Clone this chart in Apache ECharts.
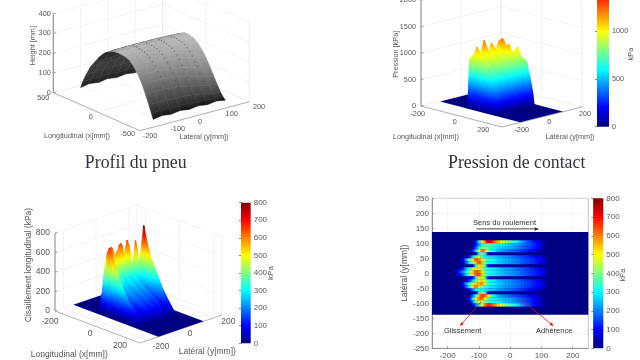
<!DOCTYPE html>
<html><head><meta charset="utf-8">
<script src="https://cdn.jsdelivr.net/npm/echarts@6/dist/echarts.min.js"></script>
<style>html,body{margin:0;background:#fff}#c{width:640px;height:360px;filter:blur(0.55px)}</style>
</head><body><div id="c"></div>
<script>
const tyreX=[-372,-350,-320,-280,-240,-200,-150,-100,-50,0,50,100,150,200,250,300,350,400,440,465];
const tyreY=[-111,-78,-45,-12,21,54,87,120,153];
const tyreHeight=[
[0,8,2,9,2,8,2,8,0],
[28,30,28,28,26,24,20,16,10],
[65,65,64,62,58,54,46,38,28],
[112,112,110,106,100,92,82,70,60],
[155,154,152,148,142,132,120,106,95],
[189,188,186,182,176,168,156,142,130],
[222,222,220,218,214,208,198,186,172],
[246,246,245,243,240,236,230,220,205],
[255,256,256,255,254,252,248,242,230],
[258,260,260,260,260,258,256,252,245],
[258,260,261,261,261,260,258,256,252],
[253,255,256,256,256,255,254,252,250],
[240,242,243,243,243,243,242,240,238],
[222,224,225,225,225,225,224,222,220],
[196,198,199,199,199,199,198,196,194],
[162,164,165,165,165,165,164,162,160],
[128,130,131,131,131,131,130,128,126],
[80,82,83,83,83,83,82,80,78],
[35,36,37,37,37,37,36,35,34],
[0,8,2,9,2,8,2,8,0]];
const tyreShade=[25,45,70,95,120,140,160,172,180,185,175,160,145,130,115,100,85,70,60,50];
const tyreInnerShade=[20,20,20,20,20,20,20,22,24,25,25,26,28,32,40,55,60,55,40,25];
const tyreDotY=[-40,5,50,96];
const tyreDotX=[-290,-260,-230,-200,-170,-140,-110,-80,-50,-20,10,40,70];
const tyreDotZ=[100,133,163,182,205,222,236,246,252,256,258,259,258];
const pressX=[-72,-62,-50,-30,-10,10,30,45,58,67];
const pressY=[-102,-96,-84,-72,-60,-48,-36,-24,-12,0,12,24,36,48,60,72,84,96,102];
const pressKPa=[
[0,0,0,0,0,0,0,0,0,0,0,0,0,0,0,0,0,0,0],
[0,930,950,1000,800,880,1050,900,820,950,900,850,960,880,800,850,750,500,0],
[0,760,930,1140,850,950,1230,980,850,1150,950,880,1150,900,820,880,780,550,0],
[0,740,900,1020,820,930,1060,960,850,1060,980,890,1220,900,830,900,800,600,0],
[0,720,880,980,790,900,1000,920,840,1020,940,880,1100,1120,840,960,820,640,0],
[0,650,830,920,760,860,960,880,800,960,900,840,1000,960,820,1060,860,760,0],
[0,520,720,800,680,760,840,780,700,840,800,740,860,820,720,860,850,780,0],
[0,320,520,600,480,560,620,560,500,620,580,540,620,590,520,620,620,520,0],
[0,150,280,340,240,310,350,300,250,340,310,280,340,310,260,330,320,260,0],
[0,0,0,0,0,0,0,0,0,0,0,0,0,0,0,0,0,0,0]];
const shearX=[-180,-170,-160,-150,-140,-130,-120,-110,-100,-90,-80,-70,-60,-50,-40,-30,-20,-10,0,10,20,30,40,50,60,70,80,90,100,110,120,130];
const shearY=[115,105,95,85,75,65,55,45,35,25,15,5,-5,-15,-25,-35,-45,-55,-65,-75,-85,-95,-105,-115];
const shearKPa=[
[0,0,0,0,0,0,0,0,0,0,0,0,0,0,0,0,0,0,0,0,0,0,0,0,0,0,0,0,0,0,0,0],
[0,0,0,0,0,0,0,90,300,470,620,790,700,620,560,500,460,420,380,340,300,260,220,190,160,130,100,75,50,25,0,0],
[0,0,0,0,0,0,0,120,220,300,360,390,350,330,315,300,285,270,255,240,225,210,195,180,165,150,130,105,70,20,0,0],
[0,0,0,0,0,0,60,170,300,420,400,350,320,300,285,275,260,250,238,225,210,195,180,165,150,135,115,90,55,10,0,0],
[0,0,0,0,0,30,110,280,480,640,560,420,330,285,255,235,220,205,190,178,165,150,138,125,110,95,80,60,30,0,0,0],
[0,0,0,0,0,0,10,40,300,420,300,35,25,30,15,25,10,20,10,20,10,15,10,15,8,10,5,5,0,0,0,0],
[0,0,0,0,30,110,250,420,480,350,290,270,270,260,250,238,225,212,200,188,175,162,150,138,125,112,100,85,65,35,5,0],
[0,0,20,90,230,400,520,650,600,520,400,340,310,295,280,265,250,238,225,212,200,188,175,162,150,138,125,110,90,60,20,0],
[0,0,30,70,180,300,420,560,640,560,380,325,305,290,275,262,248,235,222,210,198,185,172,160,148,135,122,108,88,58,15,0],
[0,0,0,0,10,40,60,330,520,520,330,60,45,35,30,40,20,30,15,25,10,20,10,15,8,10,5,5,0,0,0,0],
[0,20,60,130,250,340,430,510,520,420,350,305,290,278,265,252,240,228,215,203,190,178,166,154,142,130,116,102,82,55,18,0],
[20,80,150,220,310,430,540,640,620,520,370,320,300,288,275,262,250,238,225,212,200,188,175,162,150,138,124,108,88,60,22,0],
[0,30,90,170,280,400,520,620,650,540,380,320,300,288,275,262,250,238,225,212,200,188,175,162,150,138,124,108,88,60,22,0],
[0,0,0,0,20,50,80,330,520,520,330,55,40,30,25,35,20,28,15,22,10,18,10,14,8,10,5,5,0,0,0,0],
[0,0,0,20,70,150,270,380,480,550,420,330,295,278,262,248,235,222,210,198,186,174,162,150,138,126,112,98,78,50,15,0],
[0,0,30,110,230,340,450,540,560,600,450,340,305,290,272,258,244,232,220,207,195,182,170,158,146,133,120,105,85,58,18,0],
[0,0,10,70,190,320,520,620,520,400,340,305,285,272,258,245,232,220,208,196,184,172,160,148,136,124,110,95,75,45,10,0],
[0,0,0,0,30,90,200,300,330,300,280,260,245,238,225,212,200,190,178,166,154,142,130,120,108,96,82,66,45,15,0,0],
[0,0,0,0,0,0,10,30,320,440,320,40,30,20,28,15,22,10,18,10,15,8,12,6,8,4,3,0,0,0,0,0],
[0,0,0,0,0,60,180,350,560,660,620,520,340,285,245,222,205,190,175,163,150,138,126,114,102,88,72,55,30,0,0,0],
[0,0,0,0,0,100,300,480,610,620,480,360,310,290,275,262,250,238,225,212,198,182,168,152,135,115,92,68,40,8,0,0],
[0,0,0,0,0,50,200,380,480,460,390,350,330,312,298,282,268,255,240,225,210,195,178,160,140,118,95,70,40,10,0,0],
[0,0,0,0,0,0,90,200,330,480,620,680,650,590,540,490,445,400,360,320,285,250,215,185,155,125,95,70,45,20,0,0],
[0,0,0,0,0,0,0,0,0,0,0,0,0,0,0,0,0,0,0,0,0,0,0,0,0,0,0,0,0,0,0,0]];
const shearFloorX=[-250,250], shearFloorY=[-138,138];
const pressFloorX=[-197,197], pressFloorY=[-107,107];
// ---------- tick labels
const p1XTicks=[-500,0,500], p1YTicks=[-200,-100,0,100,200], p1ZTicks=[0,100,200,300,400];
const p2XTicks=[-200,0,200], p2YTicks=[-200,0,200], p2ZTicks=[0,500,1000,1500,2000];
const p3XTicks=[-200,0,200], p3YTicks=[-200,0,200], p3ZTicks=[0,200,400,600,800];
const p4XTicks=[-200,-100,0,100,200];
const titles=['Profil du pneu','Pression de contact'];

// ---------- 3D view definitions (orthographic)
const P1={o:[151.3,97.2],ex:[-.0867,-.038],ey:[.2733,-.0725],ez:-.198,xr:[-500,500],yr:[-200,200],zr:[0,400],xf:500,xn:-500,
  xt:p1XTicks,yt:p1YTicks,zt:p1ZTicks,fs:7.3,zlx:-2.5,
  xa:[[127.7,134.3],[90.7,116.7],[43.3,98]],ya:[[150,135.7],[177.7,128.7],[200,121.7],[231.7,114.3],[259,107.3]]};
const P2={o:[501.5,106.5],ex:[.2025,.0525],ey:[.2,-.05],ez:-.053,xr:[-200,200],yr:[-200,200],zr:[0,2000],xf:-200,xn:200,
  xt:p2XTicks,yt:p2YTicks,zt:p2ZTicks,fs:7.3,zlx:-5,
  xa:[[417.7,114],[454.7,122.3],[483.3,130]],ya:[[521.7,130],[549.3,122.3],[585,114]]};
const P3={o:[138.5,313],ex:[.17,.064],ey:[.164,-.056],ez:-.0975,xr:[-250,250],yr:[-250,250],zr:[0,800],xf:-250,xn:250,
  xt:p3XTicks,yt:p3YTicks,zt:p3ZTicks,fs:8.5,zlx:-5,
  xa:[[50,321.3],[90,333.7],[120,346]],ya:[[161,346.7],[190,333.7],[228.3,321.3]]};
const proj=(P,x,y,z)=>[P.o[0]+x*P.ex[0]+y*P.ey[0],P.o[1]+x*P.ex[1]+y*P.ey[1]+z*P.ez];

function jet(t){t=Math.max(0,Math.min(1,t));const c=v=>Math.round(255*Math.max(0,Math.min(1,1.5-Math.abs(4*t-v))));
  return 'rgb('+c(3)+','+c(2)+','+c(1)+')';}
function jetStops(){const s=[];for(let i=0;i<=32;i++)s.push({offset:i/32,color:jet(i/32)});return s;}

const series=[],grids=[],xAxes=[],yAxes=[];
// hidden full-page view plane shared by the 3D panels
grids.push({left:0,top:0,width:640,height:360,outerBoundsMode:'none'});
xAxes.push({gridIndex:0,type:'value',min:0,max:640,show:false});
yAxes.push({gridIndex:0,type:'value',min:0,max:360,inverse:true,show:false});
function layer(items,draw,gi){series.push({type:'custom',silent:true,animation:false,clip:false,coordinateSystem:'cartesian2d',
  xAxisIndex:gi||0,yAxisIndex:gi||0,progressive:0,data:items.map((_,i)=>[i,0]),
  renderItem:(p,api)=>draw(items[p.dataIndex],api)});}

function drawLine(it,api){const a=api.coord(it.a),b=api.coord(it.b);
  return {type:'line',shape:{x1:a[0],y1:a[1],x2:b[0],y2:b[1]},style:{stroke:it.c,lineWidth:it.w}};}
function drawText(it,api){const a=api.coord(it.at);
  return {type:'text',x:a[0],y:a[1],rotation:it.rot||0,style:{text:it.t,x:0,y:0,fill:it.c||'#555',
    font:(it.fs||7.3)+'px '+(it.ff||'"Liberation Sans"'),align:it.al||'center',verticalAlign:'middle'}};}

function frame(P,xl,yl,zl){
  const L=[],T=[],[y0,y1]=P.yr,z1=P.zr[1],xf=P.xf,xn=P.xn,grid='#eeeeee',ax='#a0a0a0';
  const seg=(a,b,c,w)=>L.push({a:proj(P,...a),b:proj(P,...b),c,w});
  P.xt.forEach(v=>{seg([v,y0,0],[v,y1,0],grid,.7);seg([v,y1,0],[v,y1,z1],grid,.7);});
  P.yt.forEach(v=>{seg([xf,v,0],[xn,v,0],grid,.7);seg([xf,v,0],[xf,v,z1],grid,.7);});
  P.zt.forEach(v=>{seg([xf,y0,v],[xf,y1,v],grid,.7);seg([xf,y1,v],[xn,y1,v],grid,.7);});
  seg([xf,y1,0],[xf,y1,z1],grid,.7);
  seg([xn,y1,0],[xn,y1,z1],grid,.7);
  seg([xf,y0,0],[xf,y0,z1],'#777',.9);
  seg([xf,y0,0],[xn,y0,0],ax,.8);
  seg([xn,y0,0],[xn,y1,0],ax,.8);
  P.zt.forEach(v=>{const p=proj(P,xf,y0,v);L.push({a:p,b:[p[0]+2.5,p[1]-.4],c:'#777',w:.7});
    T.push({t:String(v),at:[p[0]+P.zlx,p[1]],al:'right',fs:P.fs});});
  P.xt.forEach((v,i)=>T.push({t:String(v),at:P.xa[i],fs:P.fs}));
  P.yt.forEach((v,i)=>T.push({t:String(v),at:P.ya[i],fs:P.fs}));
  xl&&T.push(xl);yl&&T.push(yl);zl&&T.push(zl);
  layer(L,drawLine);
  return T;
}
function quadShape(pts,api){return pts.map(p=>api.coord(p));}
function colourQuad(it,api){
  const s=quadShape(it.pts,api);let lo=0,hi=0;
  it.v.forEach((v,i)=>{if(v<it.v[lo])lo=i;if(v>it.v[hi])hi=i;});
  const a=it.v[lo]/it.max,b=it.v[hi]/it.max,st=[];
  for(let i=0;i<=6;i++)st.push({offset:i/6,color:jet(a+(b-a)*i/6)});
  const dx=s[hi][0]-s[lo][0],dy=s[hi][1]-s[lo][1];
  const fill=(dx*dx+dy*dy<.04)?jet((a+b)/2):{type:'linear',x:s[lo][0],y:s[lo][1],x2:s[hi][0],y2:s[hi][1],global:true,colorStops:st};
  return {type:'polygon',shape:{points:s},style:{fill,stroke:fill,lineWidth:.5}};
}
const gray=g=>'rgb('+g+','+g+','+g+')';
function tyreQuad(it,api){
  const s=quadShape(it.pts,api),g=it.s,a=s[0],b=s[1];
  const fill={type:'linear',x:a[0],y:a[1],x2:b[0],y2:b[1],global:true,colorStops:[{offset:0,color:gray(g[0])},{offset:1,color:gray(g[1])}]};
  return {type:'polygon',shape:{points:s},style:{fill,stroke:fill,lineWidth:.5}};
}

// ---- Panel 1
const T1=frame(P1,{t:'Longitudinal (x[mm])',at:[77,135.7]},{t:'Lateral (y[mm])',at:[204,137]},{t:'Height [mm]',at:[33.3,45.7],rot:Math.PI/2});
const q1=[];
const midCol=4;
for(let i=tyreX.length-2;i>=0;i--){
  // each strip shows its outer or its inner face, judged on the strip's middle column
  const a=proj(P1,tyreX[i],0,tyreHeight[i][midCol]),b=proj(P1,tyreX[i+1],0,tyreHeight[i+1][midCol]);
  const outer=(b[0]-a[0])*P1.ey[1]-(b[1]-a[1])*P1.ey[0]>0;
  const s=outer?[tyreShade[i],tyreShade[i+1]]:[tyreInnerShade[i],tyreInnerShade[i+1]];
  for(let j=tyreY.length-2;j>=0;j--){
    const c=(m,n)=>proj(P1,tyreX[m],tyreY[n],tyreHeight[m][n]);
    q1.push({pts:[c(i,j),c(i+1,j),c(i+1,j+1),c(i,j+1)],s});
  }
}
layer(q1,tyreQuad);
const dots=[];tyreDotY.forEach(y=>tyreDotX.forEach((x,k)=>dots.push(proj(P1,x,y,tyreDotZ[k]))));
layer(dots,(p,api)=>{const c=api.coord(p);return {type:'circle',shape:{cx:c[0],cy:c[1],r:.75},style:{fill:'rgba(70,70,70,.55)'}};});
layer(T1,drawText);

// ---- Panel 2
const T2=frame(P2,{t:'Longitudinal (x[mm])',at:[426,136.7]},{t:'Latéral (y[mm])',at:[570,136.7]},{t:'Pression [kPa]',at:[396,54.3],rot:Math.PI/2});
const floorQuad=(P,fx,fy)=>[[fx[0],fy[0]],[fx[1],fy[0]],[fx[1],fy[1]],[fx[0],fy[1]]].map(c=>proj(P,c[0],c[1],0));
layer([floorQuad(P2,pressFloorX,pressFloorY)],(pts,api)=>({type:'polygon',shape:{points:quadShape(pts,api)},style:{fill:jet(0)}}));
const q2=[];
for(let i=0;i<pressX.length-1;i++)for(let j=pressY.length-2;j>=0;j--){
  const v=[pressKPa[i][j],pressKPa[i+1][j],pressKPa[i+1][j+1],pressKPa[i][j+1]];
  if(!v.some(a=>a>0))continue;
  const idx=[[i,j],[i+1,j],[i+1,j+1],[i,j+1]];
  q2.push({v,max:1600,pts:idx.map((c,k)=>proj(P2,pressX[c[0]],pressY[c[1]],v[k]))});
}
layer(q2,colourQuad);
layer(T2,drawText);

// ---- Panel 3
const T3=frame(P3,{t:'Longitudinal (x[mm])',at:[69.3,354.3],fs:8.5},{t:'Latéral (y[mm])',at:[207.3,351.7],fs:8.5},{t:'Cisaillement longitudinal (kPa)',at:[29,265],rot:Math.PI/2,fs:8.5});
layer([floorQuad(P3,shearFloorX,shearFloorY)],(pts,api)=>({type:'polygon',shape:{points:quadShape(pts,api)},style:{fill:jet(0)}}));
const q3=[];
for(let r=0;r<shearY.length-1;r++)for(let c=0;c<shearX.length-1;c++){
  const v=[shearKPa[r][c]||0,shearKPa[r+1][c]||0,shearKPa[r+1][c+1]||0,shearKPa[r][c+1]||0];
  if(!v.some(a=>a>0))continue;
  const idx=[[r,c],[r+1,c],[r+1,c+1],[r,c+1]];
  q3.push({v,max:800,pts:idx.map((a,k)=>proj(P3,shearX[a[1]],shearY[a[0]],v[k]))});
}
layer(q3,colourQuad);
layer(T3,drawText);

// ---- Panel 4 (real axes)
grids.push({left:432,top:198.3,width:156.3,height:150,show:true,borderColor:'#999',borderWidth:.6,outerBoundsMode:'none'});
xAxes.push({gridIndex:1,type:'value',min:-250,max:250,
  axisLine:{onZero:false,lineStyle:{color:'#777',width:.7}},
  axisTick:{customValues:p4XTicks,length:2,inside:true,lineStyle:{color:'#777',width:.6}},
  axisLabel:{customValues:p4XTicks,fontSize:8,color:'#555',margin:3,fontFamily:'Liberation Sans'},
  splitLine:{show:true,lineStyle:{color:'#ececec',width:.6}}});
yAxes.push({gridIndex:1,type:'value',min:-250,max:250,interval:50,name:'Latéral (y[mm])',nameLocation:'middle',nameGap:18,
  nameTextStyle:{fontSize:8.5,color:'#555',fontFamily:'Liberation Sans'},
  axisLine:{onZero:false,lineStyle:{color:'#777',width:.7}},
  axisTick:{length:2,inside:true,lineStyle:{color:'#777',width:.6}},
  axisLabel:{fontSize:8,color:'#555',margin:3,fontFamily:'Liberation Sans'},
  splitLine:{show:true,lineStyle:{color:'#ececec',width:.6}}});
layer([[shearFloorX,shearFloorY]],(f,api)=>{const a=api.coord([f[0][0],f[1][1]]),b=api.coord([f[0][1],f[1][0]]);
  return {type:'rect',shape:{x:a[0],y:a[1],width:b[0]-a[0],height:b[1]-a[1]},style:{fill:jet(0)}};},1);
const cells=[];shearY.forEach((y,r)=>shearX.forEach((x,c)=>{const row=shearKPa[r],v=row[c]||0,pv=row[c-1]||0,nv=row[c+1]||0;
  if(v>0||pv>0||nv>0)cells.push([x,y,v,pv,nv]);}));
layer(cells,(d,api)=>{const a=api.coord([d[0]-5,d[1]+5]),b=api.coord([d[0]+5,d[1]-5]);
  return {type:'rect',shape:{x:a[0],y:a[1],width:b[0]-a[0]+.3,height:b[1]-a[1]+.3},style:{fill:{type:'linear',x:0,y:0,x2:1,y2:0,colorStops:[
    {offset:0,color:jet((d[2]+d[3])/1600)},{offset:.5,color:jet(d[2]/800)},{offset:1,color:jet((d[2]+d[4])/1600)}]}}};},1);
const annotArrows=[{from:[-108,148],to:[90,148],c:'#222'},{from:[-93,-95],to:[-160,-175],c:'#e01515'},{from:[34,-87],to:[138,-175],c:'#e01515'}];
const annotTexts=[{t:'Sens du roulement',at:[-18,167]},{t:'Glissement',at:[-152,-192]},{t:'Adhérence',at:[141,-192]}];
layer(annotArrows,(d,api)=>{const a=api.coord(d.from),b=api.coord(d.to),ang=Math.atan2(b[1]-a[1],b[0]-a[0]),h=4;
  const wing=s=>[b[0]-h*Math.cos(ang+s*.45),b[1]-h*Math.sin(ang+s*.45)];
  return {type:'group',children:[
    {type:'line',shape:{x1:a[0],y1:a[1],x2:b[0],y2:b[1]},style:{stroke:d.c,lineWidth:.8}},
    {type:'polygon',shape:{points:[b,wing(1),wing(-1)]},style:{fill:d.c}}]};},1);
layer(annotTexts,(d,api)=>{const a=api.coord(d.at);return {type:'text',x:a[0],y:a[1],style:{text:d.t,x:0,y:0,fill:'#333',font:'7.5px "Liberation Sans"',align:'center',verticalAlign:'middle'}};},1);

// ---- Colour bars
function colourBar(left,top,w,h,max,interval,fs){
  const gi=grids.length;
  grids.push({left,top,width:w,height:h,outerBoundsMode:'none'});
  xAxes.push({gridIndex:gi,type:'value',min:0,max:1,show:false});
  yAxes.push({gridIndex:gi,type:'value',min:0,max,interval,position:'right',
    axisLine:{show:true,lineStyle:{color:'#555',width:.6}},axisTick:{inside:true,length:2,lineStyle:{color:'#333',width:.6}},
    splitLine:{show:false},axisLabel:{fontSize:fs,color:'#555',margin:3,fontFamily:'Liberation Sans',formatter:v=>String(v)}});
  series.push({type:'custom',silent:true,animation:false,xAxisIndex:gi,yAxisIndex:gi,data:[[0,max]],
    renderItem:(p,api)=>{const a=api.coord([0,max]),b=api.coord([1,0]);
      return {type:'rect',shape:{x:a[0],y:a[1],width:b[0]-a[0],height:b[1]-a[1]},
        style:{fill:{type:'linear',x:0,y:1,x2:0,y2:0,colorStops:jetStops()}}};}});
}
colourBar(597,-25.8,12,152.5,1600,500,7.3);
colourBar(241,202.7,9.7,140.6,800,100,8);
colourBar(593.3,198.3,10,150,800,100,8);

// ---- free texts
const freeTexts=[
 {t:titles[0],at:[135.7,163.5],fs:17.8,ff:'"Liberation Serif"',c:'#33333f'},
 {t:titles[1],at:[516.7,163.5],fs:17.8,ff:'"Liberation Serif"',c:'#33333f'},
 {t:'kPa',at:[630.7,54],rot:Math.PI/2,fs:7.3},
 {t:'kPa',at:[270.7,273],rot:Math.PI/2,fs:8},
 {t:'kPa',at:[622.7,275],rot:Math.PI/2,fs:7.5}];
layer(freeTexts,drawText);

const chart=echarts.init(document.getElementById('c'),null,{renderer:'canvas'});
chart.setOption({animation:false,backgroundColor:'#fff',grid:grids,xAxis:xAxes,yAxis:yAxes,series});
</script></body></html>
